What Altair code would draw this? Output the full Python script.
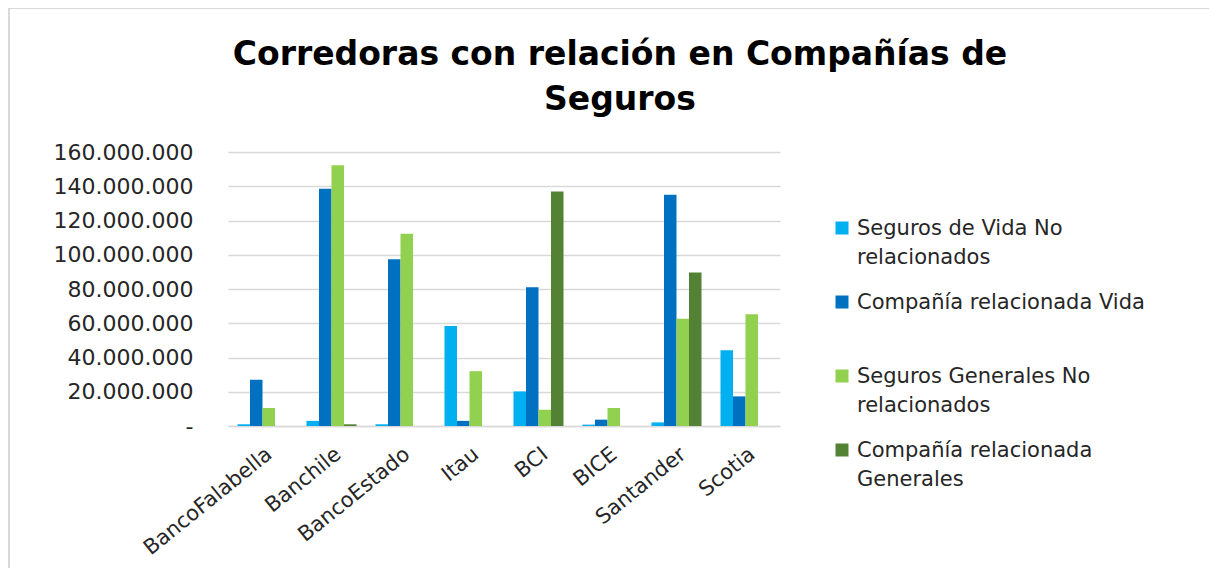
import altair as alt
import pandas as pd

categories = ["BancoFalabella", "Banchile", "BancoEstado", "Itau", "BCI", "BICE", "Santander", "Scotia"]
series = [
    "Seguros de Vida No relacionados",
    "Compañía relacionada Vida",
    "Seguros Generales No relacionados",
    "Compañía relacionada Generales",
]
legend_labels = [
    "Seguros de Vida No|relacionados",
    "Compañía relacionada Vida",
    "Seguros Generales No|relacionados",
    "Compañía relacionada|Generales",
]
vida_no_rel = [1000000, 3000000, 1000000, 58400000, 20200000, 800000, 2100000, 44200000]
vida_rel = [27000000, 138600000, 97300000, 3000000, 81000000, 3700000, 135000000, 17300000]
gen_no_rel = [10500000, 152200000, 112300000, 32000000, 9500000, 10500000, 62700000, 65200000]
gen_rel = [0, 1000000, 0, 0, 137000000, 0, 89700000, 0]
colors = ["#00B0F0", "#0070C0", "#92D050", "#548235"]

rows = []
for s, vals in zip(series, [vida_no_rel, vida_rel, gen_no_rel, gen_rel]):
    for c, v in zip(categories, vals):
        rows.append({"Corredora": c, "Serie": s, "Valor": v})
df = pd.DataFrame(rows)
leg_df = pd.DataFrame({"Serie": series, "Etiqueta": legend_labels})

font = "DejaVu Sans"
color_scale = alt.Scale(domain=series, range=colors)

bars = (
    alt.Chart(df)
    .mark_bar()
    .encode(
        x=alt.X(
            "Corredora:N",
            sort=categories,
            scale=alt.Scale(paddingInner=0.275, paddingOuter=0.1375),
            axis=alt.Axis(
                title=None,
                labelAngle=-39,
                labelFont=font,
                labelFontSize=21,
                labelColor="#262626",
                labelPadding=17,
                ticks=False,
                domainColor="#D9D9D9",
                domainWidth=1.5,
                grid=False,
            ),
        ),
        xOffset=alt.XOffset("Serie:N", sort=series, scale=alt.Scale(paddingInner=0, paddingOuter=0)),
        y=alt.Y(
            "Valor:Q",
            scale=alt.Scale(domain=[0, 160000000], nice=False),
            axis=alt.Axis(
                title=None,
                values=list(range(0, 160000001, 20000000)),
                labelExpr="datum.value == 0 ? '-' : replace(format(datum.value, ','), regexp(',', 'g'), '.')",
                labelFont=font,
                labelFontSize=22,
                labelColor="#262626",
                labelPadding=35,
                ticks=False,
                domain=False,
                gridColor="#D9D9D9",
                gridWidth=1.5,
            ),
        ),
        color=alt.Color("Serie:N", sort=series, scale=color_scale, legend=None),
    )
)

leg_y = alt.Y("Serie:N", sort=series, axis=None, scale=alt.Scale(range=[76, 298], padding=0))

leg_symbols = (
    alt.Chart(leg_df)
    .mark_square(size=169, opacity=1, strokeWidth=0)
    .encode(
        x=alt.value(614),
        y=leg_y,
        color=alt.Color("Serie:N", sort=series, scale=color_scale, legend=None),
    )
)

leg_text = (
    alt.Chart(leg_df)
    .mark_text(
        align="left",
        baseline="alphabetic",
        dy=7,
        font=font,
        fontSize=21,
        color="#262626",
        lineBreak="|",
        lineHeight=29,
    )
    .encode(x=alt.value(629), y=leg_y, text="Etiqueta:N")
)

frame_df = pd.DataFrame({"k": [0]})
left_line = alt.Chart(frame_df).mark_rule(color="#D9D9D9", strokeWidth=2).encode(
    x=alt.value(-219), y=alt.value(-144), y2=alt.value(416)
)
top_line = alt.Chart(frame_df).mark_rule(color="#D9D9D9", strokeWidth=2).encode(
    x=alt.value(-219), x2=alt.value(981), y=alt.value(-144)
)

chart = (
    alt.layer(bars, leg_symbols, leg_text, left_line, top_line)
    .resolve_scale(y="independent")
    .properties(
        width=552,
        height=274,
        title=alt.TitleParams(
            text=["Corredoras con relación en Compañías de", "Seguros"],
            font=font,
            fontSize=33,
            fontWeight="bold",
            color="#000000",
            anchor="middle",
            dx=116,
            dy=110,
            offset=0,
            lineHeight=45,
        ),
        autosize=alt.AutoSizeParams(type="none"),
        padding={"left": 220, "top": 144, "right": 429, "bottom": 142},
    )
    .configure_view(stroke=None)
)

chart.save("out.html", embed_options={"renderer": "svg", "actions": False})
